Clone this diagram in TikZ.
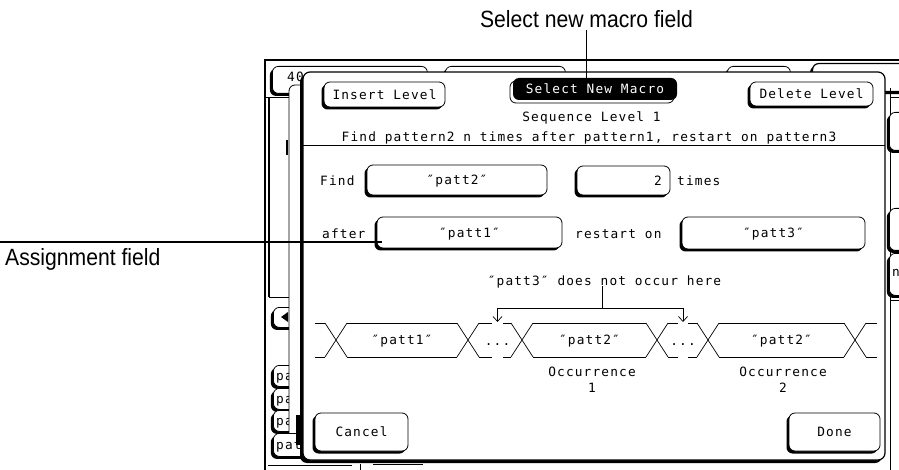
\documentclass[tikz,border=0pt]{standalone}
\usepackage{fontspec}
\newfontfamily\scrfont[LetterSpace=9]{DejaVu Sans Mono}
\newfontfamily\annfont[FakeStretch=0.9]{Liberation Sans}
\usetikzlibrary{shadows,arrows.meta}
\tikzset{
  scr/.style={font=\scrfont\fontsize{12.8pt}{14pt}\selectfont, inner sep=0pt, text height=9.3pt, text depth=0pt},
  anntext/.style={font=\annfont\fontsize{23.5pt}{25pt}\selectfont, inner sep=2pt, text height=16.6pt, text depth=0pt},
  shad/.style={drop shadow={shadow xshift=-#1, shadow yshift=-#1, fill=black, opacity=1}},
  btn/.style={scr, draw, line width=0.8pt, fill=white, rounded corners=6pt, shad=2.5pt},
  thinbox/.style={draw, line width=0.8pt, fill=white, rounded corners=6pt},
  sig/.style={line width=0.7pt},
  scrline/.style={line width=1pt},
  leader/.style={line width=1.3pt},
}
\begin{document}
\begin{tikzpicture}[x=1pt,y=-1pt]
\path[use as bounding box, fill=white] (0,0) rectangle (899,470);

% ---------- background screen ----------
\draw[scrline, line width=1.3pt] (265,470) -- (265,60) -- (905,60);
\node[btn, minimum width=155pt, minimum height=27pt, anchor=north west] (tab1) at (272,66) {};
\node[scr, anchor=west] (tab1t) at (287,77) {40};
\node[btn, minimum width=120pt, minimum height=27pt, anchor=north west] (tab2) at (445,66) {};
\node[btn, minimum width=63pt, minimum height=27pt, anchor=north west] (tab3) at (727,66) {};
\node[btn, minimum width=100pt, minimum height=28pt, anchor=north west, line width=1.2pt] (tab4) at (812,63) {};

\draw[scrline] (890,98) -- (905,98);
\draw[scrline] (890,300) -- (905,300);
\draw[scrline] (890,88) -- (890,470);
\node[btn, minimum width=25pt, minimum height=38pt, anchor=north west] (rb1) at (889,112) {};
\node[btn, minimum width=25pt, minimum height=42pt, anchor=north west] (rb2) at (889,208) {};
\node[btn, minimum width=25pt, minimum height=42pt, anchor=north west] (rb3) at (889,253) {};
\node[scr, anchor=west] (rb3t) at (892,272) {n};

\draw[scrline] (265,98) -- (292,98);
\draw[line width=2pt] (269,98) -- (269,297);
\draw[scrline] (269,297) -- (292,297);
\draw[line width=2.5pt] (287,140) -- (287,155);
\node[btn, minimum width=24pt, minimum height=20pt, anchor=north west] (lbtn) at (273,307) {};
\fill (281,317) -- (288,312) -- (288,322) -- cycle;
\node[btn, minimum width=30pt, minimum height=21pt, anchor=north west] (pa1) at (273,365) {};
\node[scr, anchor=west] (pa1t) at (276,376) {pa};
\node[btn, minimum width=30pt, minimum height=21pt, anchor=north west] (pa2) at (273,388) {};
\node[scr, anchor=west] (pa2t) at (276,398.5) {pa};
\node[btn, minimum width=30pt, minimum height=21pt, anchor=north west] (pa3) at (273,410) {};
\node[scr, anchor=west] (pa3t) at (276,420.5) {pa};

\draw[scrline] (268,465) -- (352,465);
\draw[scrline] (360,464) -- (360,470);
\draw[scrline] (373,464) -- (423,464);

% ---------- back panel ----------
\draw[thinbox] (289,85) rectangle (878,452);
\node[btn, minimum width=40pt, minimum height=23pt, anchor=north west] (pa4) at (273,433) {};
\node[scr, anchor=west] (pa4t) at (276,444.5) {pat};
\fill (296,415) rectangle (303,445);

% ---------- dialog ----------
\draw[line width=1.2pt, fill=white, rounded corners=7pt, shad=3pt] (303,72) rectangle (885,460);

\node[btn, minimum width=121pt, minimum height=25pt] (ins) at (384.5,94.5) {Insert Level};
\draw[thinbox] (510,81) rectangle (674,103);
\node[scr, fill=black, text=white, rounded corners=6pt, minimum width=164pt, minimum height=22pt] (sel) at (595,89) {Select New Macro};
\node[btn, minimum width=123pt, minimum height=24pt] (del) at (811.5,94) {Delete Level};
\node[scr] (seq) at (591.5,117) {Sequence Level 1};
\node[scr] (desc) at (589,137) {Find pattern2 n times after pattern1, restart on pattern3};
\draw[scrline] (303,146) -- (885,146);

\node[scr, anchor=west] (find) at (320,181) {Find};
\node[btn, minimum width=180pt, minimum height=30pt] (f2) at (457,180) {″patt2″};
\node[btn, minimum width=93pt, minimum height=29pt] (nt) at (623.5,180.5) {};
\node[scr, anchor=east] (ntv) at (662,181) {2};
\node[scr, anchor=west] (times) at (677,181) {times};
\node[scr, anchor=west] (after) at (322,234) {after};
\node[btn, minimum width=185pt, minimum height=31pt] (f1) at (469.5,232.5) {″patt1″};
\node[scr, anchor=west] (rst) at (575,234) {restart on};
\node[btn, minimum width=183pt, minimum height=32pt] (f3) at (773.5,233) {″patt3″};

% timing diagram
\foreach \c in {336,468,522,657,708,855}
  \draw[sig] (\c-11,323) -- (\c+11,357) (\c-11,357) -- (\c+11,323);
\foreach \a/\b in {315/325,347/457,479/492,503/511,533/646,668/678,688/697,719/844,866/877}
  \draw[sig] (\a,323) -- (\b,323) (\a,357) -- (\b,357);
\node[scr] (bp1) at (402,340) {″patt1″};
\node[scr] (bd1) at (497.5,341) {...};
\node[scr] (bp2) at (589.5,340) {″patt2″};
\node[scr] (bd2) at (683,341) {...};
\node[scr] (bp3) at (781.5,340) {″patt2″};

\node[scr] (noocc) at (604.5,281) {″patt3″ does not occur here};
\coordinate (jn) at (602,308);
\coordinate (a1) at (497.5,322);
\coordinate (a2) at (683,322);
\draw[sig] (noocc.south -| jn) -- (jn);
\draw[sig, -{Straight Barb[length=5pt,width=9pt]}] (jn) -| (a1);
\draw[sig, -{Straight Barb[length=5pt,width=9pt]}] (jn) -| (a2);

\node[scr] (occ1) at (592,372) {Occurrence};
\node[scr] (occ1n) at (592,388) {1};
\node[scr] (occ2) at (783,372) {Occurrence};
\node[scr] (occ2n) at (783,388) {2};

\node[btn, minimum width=93pt, minimum height=38pt] (cancel) at (361.5,432) {Cancel};
\node[btn, minimum width=91pt, minimum height=38pt] (done) at (834.5,432) {Done};

% ---------- annotations ----------
\node[anntext] (selfield) at (586.5,19.5) {Select new macro field};
\draw[leader] (selfield.south) -- (selfield.south |- sel.north);
\node[anntext, anchor=west] (asg) at (3,257) {Assignment field};
\coordinate (asgL) at (0,242);
\draw[leader] (asgL) -- ([xshift=5pt]asgL -| f1.west);
\end{tikzpicture}
\end{document}
